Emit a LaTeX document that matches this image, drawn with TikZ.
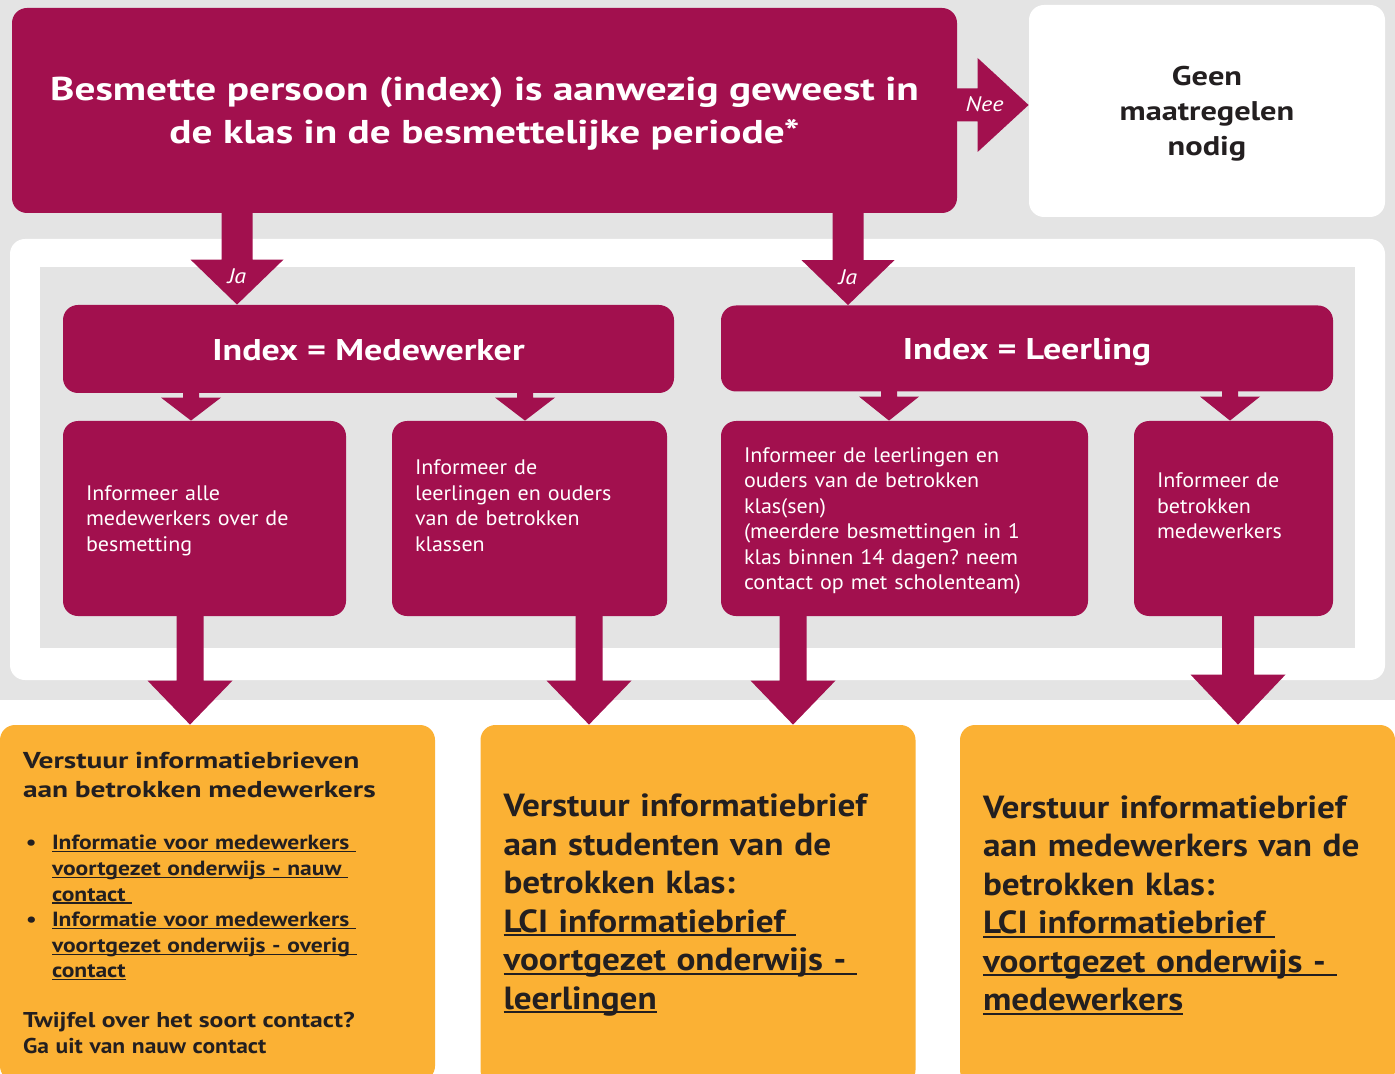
\documentclass[tikz,border=0pt]{standalone}
\usepackage{fontspec}
\setmainfont{PT Sans}
\newfontfamily\fsA{PT Sans}[FakeStretch=1.25]
\newfontfamily\fsB{PT Sans}[FakeStretch=1.2]
\newfontfamily\fsC{PT Sans}[FakeStretch=1.28]
\newfontfamily\fsD{PT Sans}[FakeStretch=1.15]
\newfontfamily\fsE{PT Sans}[FakeStretch=1.1]
\newfontfamily\fsF{PT Sans}[FakeStretch=1.05]
\usetikzlibrary{calc}
\definecolor{mag}{RGB}{162,16,78}
\definecolor{bggray}{RGB}{228,228,228}
\definecolor{orng}{RGB}{251,177,52}
\definecolor{ink}{RGB}{35,31,32}
\setlength\parindent{0pt}
\setlength\parskip{0pt}
\frenchspacing
\newcommand\ulnk[1]{\leavevmode\setbox0=\hbox{#1}\rlap{\rule[-0.12em]{\wd0}{0.06em}}\box0}
% block arrow pointing down: #1 x-coordinate name, #2 from node, #3 to node,
% #4 shaft half width, #5 head half width, #6 head length (all px)
\newcommand\arrdown[6]{%
  \path (#2.south -| #1) coordinate (as) (#3.north -| #1) coordinate (ae);
  \fill[mag] ($(as)+(-#4,-1)$) -- ($(ae)+(-#4,-#6)$) -- ($(ae)+(-#5,-#6)$) -- (ae)
    -- ($(ae)+(#5,-#6)$) -- ($(ae)+(#4,-#6)$) -- ($(as)+(#4,-1)$) -- cycle;}
\newcommand\arrright[6]{%
  \path (#2.east |- #1) coordinate (as) (#3.west |- #1) coordinate (ae);
  \fill[mag] ($(as)+(-1,-#4)$) -- ($(ae)+(-#6,-#4)$) -- ($(ae)+(-#6,-#5)$) -- (ae)
    -- ($(ae)+(-#6,#5)$) -- ($(ae)+(-#6,#4)$) -- ($(as)+(-1,#4)$) -- cycle;}
\begin{document}
\begin{tikzpicture}[x=0.5pt,y=-0.5pt,
  magbox/.style={fill=mag, rounded corners=7.5pt, text=white, inner sep=0pt, align=center},
  subbox/.style={fill=mag, rounded corners=7.5pt, text=white, inner xsep=11.5pt, inner ysep=0pt,
     align=left, minimum height=97.5pt, font=\fsF\fontsize{10.5}{12.75}\selectfont},
  orbox/.style={fill=orng, rounded corners=7.5pt, text=ink, inner xsep=11.5pt, inner ysep=0pt,
     align=left, minimum height=180pt, text width=194.5pt},
  lbl/.style={text=white, font=\fsD\fontsize{10.5}{12}\selectfont\itshape, inner sep=0pt},
  ]
\useasboundingbox (0,0) rectangle (1395,1074);
\clip (0,0) rectangle (1395,1074);
% backgrounds
\fill[bggray] (0,0) rectangle (1395,700);
\fill[white] (0,700) rectangle (1395,1074);
\fill[white, rounded corners=7.5pt] (10,239) rectangle (1385,680);
\fill[bggray] (40,267) rectangle (1355,648);

% nodes
\node[magbox, minimum width=472.5pt, minimum height=102.5pt,
  font=\fsA\fontsize{16.5}{21.5}\selectfont\bfseries] (top) at (484.5,110.5)
  {Besmette persoon (index) is aanwezig geweest in\\\smash{de klas in de besmettelijke periode*}};
\node[fill=white, rounded corners=7.5pt, text=ink, align=center, inner sep=0pt,
  minimum width=178pt, minimum height=106pt,
  font=\fsB\fontsize{13.5}{17.5}\selectfont\bfseries] (geen) at (1207,111)
  {Geen\\maatregelen\\\smash{nodig}};

\node[magbox, minimum width=305.5pt, minimum height=44pt, text height=11.5pt, text depth=0pt,
  font=\fsB\fontsize{15}{18}\selectfont\bfseries] (medew) at (368.5,349) {Index = Medewerker};
\node[magbox, minimum width=306pt, minimum height=43pt, text height=11.5pt, text depth=0pt,
  font=\fsB\fontsize{15}{18}\selectfont\bfseries] (leerl) at (1027,348.5) {Index = Leerling};

\node[subbox, text width=118.5pt] (sa) at (204.5,518.5)
  {Informeer alle\\medewerkers over de\\\smash{besmetting}};
\node[subbox, text width=114.5pt] (sb) at (529.5,518.5)
  {Informeer de\\leerlingen en ouders\\van de betrokken\\klassen\\\mbox{}};
\node[subbox, text width=160.5pt] (sc) at (904.5,518.5)
  {Informeer de leerlingen en\\ouders van de betrokken\\klas(sen)\\(meerdere besmettingen in 1\\klas binnen 14 dagen? neem\\\smash{contact op met scholenteam)}};
\node[subbox, text width=76.5pt] (sd) at (1233.5,518.5)
  {Informeer de\\betrokken\\medewerkers\\\mbox{}};

\node[orbox, minimum height=178pt] (oa) at (217.5,903) {%
  {\fsC\fontsize{11.5}{14.5}\selectfont\bfseries Verstuur informatiebrieven\\aan betrokken medewerkers\par}
  \vspace{13.2pt}
  {\fsD\fontsize{10.25}{12.8}\selectfont\bfseries
  \makebox[14.5pt][l]{\hspace{1.5pt}\textbullet}\ulnk{Informatie voor medewerkers }\\
  \hspace*{14.5pt}\ulnk{voortgezet onderwijs - nauw }\\
  \hspace*{14.5pt}\ulnk{contact }\\
  \makebox[14.5pt][l]{\hspace{1.5pt}\textbullet}\ulnk{Informatie voor medewerkers }\\
  \hspace*{14.5pt}\ulnk{voortgezet onderwijs - overig }\\
  \hspace*{14.5pt}\ulnk{contact}\par}
  \vspace{11.6pt}
  {\fsB\fontsize{10.7}{13}\selectfont\bfseries Twijfel over het soort contact?\par}
  {\fsE\fontsize{10.7}{13}\selectfont\bfseries Ga uit van nauw contact\par}};
\node[orbox, font=\fsE\fontsize{16}{19.25}\selectfont\bfseries] (ob) at (698,905)
  {Verstuur informatiebrief\\aan studenten van de\\betrokken klas:\\
   \ulnk{LCI informatiebrief }\\\ulnk{voortgezet onderwijs - }\\\ulnk{leerlingen}};
\node[orbox, font=\fsE\fontsize{16}{19.25}\selectfont\bfseries] (oc) at (1177.5,905)
  {Verstuur informatiebrief\\aan medewerkers van de\\betrokken klas:\\
   \ulnk{LCI informatiebrief }\\\ulnk{voortgezet onderwijs - }\\\ulnk{medewerkers}};

% x / y positions of the connectors
\coordinate (xjal) at (237,0);
\coordinate (xjar) at (848,0);
\coordinate (xa) at (191,0);
\coordinate (xb) at (525,0);
\coordinate (xc) at (889,0);
\coordinate (xd) at (1230,0);
\coordinate (xoa) at (190,0);
\coordinate (xob) at (589,0);
\coordinate (xoc) at (793,0);
\coordinate (xod) at (1238,0);
\coordinate (ynee) at (0,105);

% connectors
\arrright{ynee}{top}{geen}{16.5}{47}{51}
\node[lbl] (lnee) at ($(ae)+(-44,-1)$) {Nee};
\arrdown{xjal}{top}{medew}{15.5}{46.5}{45}
\node[lbl] (ljal) at ($(ae)+(0,-28)$) {Ja};
\arrdown{xjar}{top}{leerl}{15.5}{46.5}{45}
\node[lbl] (ljar) at ($(ae)+(0,-28)$) {Ja};
\arrdown{xa}{medew}{sa}{8}{30}{23}
\arrdown{xb}{medew}{sb}{8}{30}{23}
\arrdown{xc}{leerl}{sc}{8}{30}{24}
\arrdown{xd}{leerl}{sd}{8}{30}{24}
\arrdown{xoa}{sa}{oa}{13.5}{42.5}{44}
\arrdown{xob}{sb}{ob}{13.5}{42.5}{44}
\arrdown{xoc}{sc}{oc}{13.5}{42.5}{44}
\arrdown{xod}{sd}{oc}{16}{47.5}{50}
\end{tikzpicture}
\end{document}
